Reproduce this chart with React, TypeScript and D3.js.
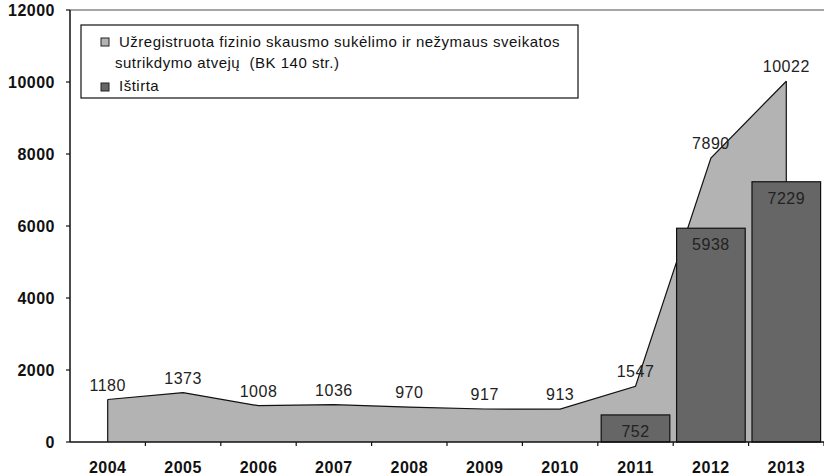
import React from "react";
import * as d3 from "d3";

const years = ["2004", "2005", "2006", "2007", "2008", "2009", "2010", "2011", "2012", "2013"];
const registered = [1180, 1373, 1008, 1036, 970, 917, 913, 1547, 7890, 10022];
const investigatedYears = ["2011", "2012", "2013"];
const investigated = [752, 5938, 7229];
const yTicks = [0, 2000, 4000, 6000, 8000, 10000, 12000];
const legendLine1 = "Užregistruota fizinio skausmo sukėlimo ir nežymaus sveikatos";
const legendLine2 = "sutrikdymo atvejų  (BK 140 str.)";
const legendLine3 = "Ištirta";

const W = 824;
const H = 476;
const left = 70;
const right = 824;
const top = 10;
const bottom = 442;
const FONT = "Arial, 'Liberation Sans', sans-serif";

export default function App() {
  const x = d3.scaleBand<string>().domain(years).range([left, right]).padding(0);
  const xb = d3.scaleBand<string>().domain(years).range([left, right]).paddingInner(0.09).paddingOuter(0.045);
  const y = d3.scaleLinear().domain([0, 12000]).range([bottom, top]);
  const cx = (yr: string) => (x(yr) as number) + x.bandwidth() / 2;

  const pts = years.map((yr, i) => ({ yr, v: registered[i] }));
  const area = d3.area<{ yr: string; v: number }>().x((d) => cx(d.yr)).y0(y(0)).y1((d) => y(d.v));
  const line = d3.line<{ yr: string; v: number }>().x((d) => cx(d.yr)).y((d) => y(d.v));

  return (
    <svg width={W} height={H} style={{ position: "absolute", left: 0, top: 0, background: "#fff" }} fontFamily={FONT}>
      <rect x={0} y={0} width={W} height={H} fill="#fff" />
      <line x1={left} x2={right} y1={top} y2={top} stroke="#888" strokeWidth={1.5} />
      <path d={area(pts) || ""} fill="#b3b3b3" />
      <path d={line(pts) || ""} fill="none" stroke="#111" strokeWidth={1.2} />
      <line x1={cx(years[0])} x2={cx(years[0])} y1={y(registered[0])} y2={bottom} stroke="#111" strokeWidth={1.2} />
      <line x1={cx(years[years.length - 1])} x2={cx(years[years.length - 1])} y1={y(registered[registered.length - 1])} y2={bottom} stroke="#111" strokeWidth={1.2} />
      {investigatedYears.map((yr, i) => (
        <rect key={yr} x={xb(yr)} y={y(investigated[i])} width={xb.bandwidth()} height={y(0) - y(investigated[i])} fill="#666666" stroke="#111" strokeWidth={1.2} />
      ))}
      {pts.map((d) => (
        <text key={d.yr} x={cx(d.yr)} y={y(d.v) - 9} textAnchor="middle" fontSize={16} fill="#222" letterSpacing={0.5}>
          {d.v}
        </text>
      ))}
      {investigatedYears.map((yr, i) => (
        <text key={yr} x={(xb(yr) as number) + xb.bandwidth() / 2} y={y(investigated[i]) + 22} textAnchor="middle" fontSize={16} fill="#222" letterSpacing={0.5}>
          {investigated[i]}
        </text>
      ))}
      <line x1={left} x2={left} y1={top} y2={bottom} stroke="#111" strokeWidth={1.5} />
      <line x1={left} x2={right} y1={bottom} y2={bottom} stroke="#111" strokeWidth={1.5} />
      {yTicks.map((t) => (
        <g key={t}>
          <line x1={left - 4} x2={left} y1={y(t)} y2={y(t)} stroke="#111" strokeWidth={1.2} />
          <text x={55} y={y(t)} dy="0.36em" textAnchor="end" fontSize={16} fontWeight="bold" fill="#111" letterSpacing={0.5}>
            {t}
          </text>
        </g>
      ))}
      {years.map((yr) => (
        <g key={yr}>
          <line x1={(x(yr) as number) + x.bandwidth()} x2={(x(yr) as number) + x.bandwidth()} y1={bottom} y2={bottom + 4} stroke="#111" strokeWidth={1.2} />
          <text x={cx(yr)} y={473} textAnchor="middle" fontSize={16} fontWeight="bold" fill="#111" letterSpacing={0.5}>
            {yr}
          </text>
        </g>
      ))}
      <rect x={81} y={25} width={497} height={73} fill="#fff" stroke="#111" strokeWidth={1.2} />
      <rect x={101} y={38} width={8} height={8} fill="#b3b3b3" stroke="#222" strokeWidth={1} />
      <rect x={101} y={83} width={8} height={8} fill="#666666" stroke="#222" strokeWidth={1} />
      <text x={119} y={47} fontSize={15} fill="#111" letterSpacing={0.5}>{legendLine1}</text>
      <text x={115} y={68} fontSize={15} fill="#111" letterSpacing={0.5} style={{ whiteSpace: "pre" }}>{legendLine2}</text>
      <text x={119} y={91} fontSize={15} fill="#111" letterSpacing={0.5}>{legendLine3}</text>
    </svg>
  );
}
